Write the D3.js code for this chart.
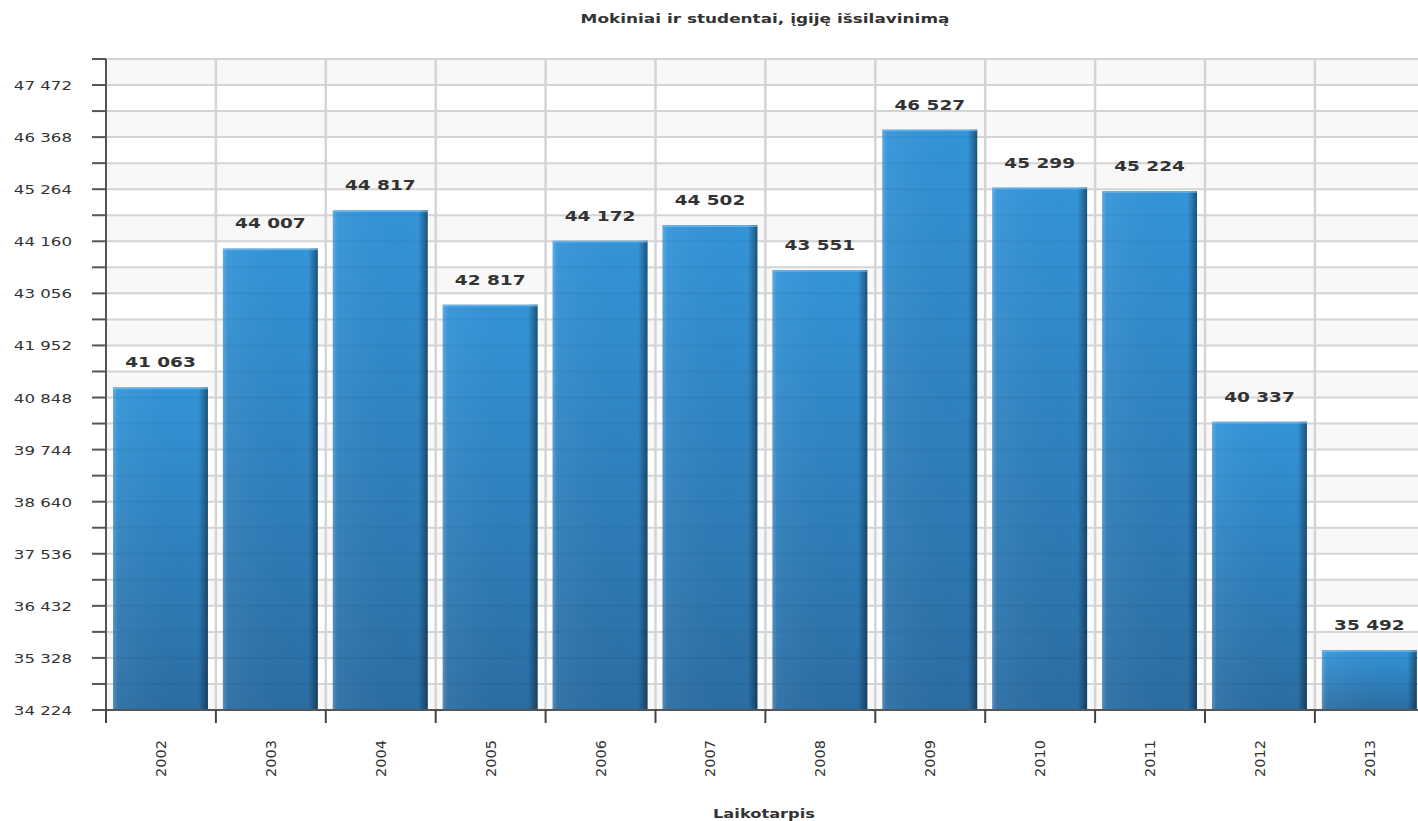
<!DOCTYPE html>
<html><head><meta charset="utf-8">
<script src="https://cdn.jsdelivr.net/npm/d3@7"></script>
<style>
html,body{margin:0;padding:0;background:#fff;overflow:hidden}
text{font-family:"DejaVu Sans",Verdana,sans-serif;fill:#333}
</style></head><body>
<svg id="c" width="1418" height="821"></svg>
<script>
const years = ["2002","2003","2004","2005","2006","2007","2008","2009","2010","2011","2012","2013"];
const values = [41063,44007,44817,42817,44172,44502,43551,46527,45299,45224,40337,35492];
const yTicks = [34224,35328,36432,37536,38640,39744,40848,41952,43056,44160,45264,46368,47472];
const yMinorStep = 552;
const yMax = 48024;
const title = "Mokiniai ir studentai, įgiję išsilavinimą";
const xTitle = "Laikotarpis";

const svg = d3.select("#c");
const L = 106, B = 710, T = 59, bandW = 109.9;
const R = L + bandW * years.length;
const x = d3.scaleBand().domain(years).range([L, R]).padding(0);
const y = d3.scaleLinear().domain([yTicks[0], yMax]).range([B, T]);
const fmt = v => d3.format(",")(v).replace(/,/g, " ");

const defs = svg.append("defs");
const gv = defs.append("linearGradient").attr("id","gv").attr("x1",0).attr("y1",0).attr("x2",0).attr("y2",1);
gv.append("stop").attr("offset","0").attr("stop-color","#3394d8");
gv.append("stop").attr("offset","1").attr("stop-color","#2a6da3");
const gh = defs.append("linearGradient").attr("id","gh").attr("x1",0).attr("y1",0).attr("x2",1).attr("y2",0);
gh.append("stop").attr("offset","0").attr("stop-color","#fff").attr("stop-opacity",0.22);
gh.append("stop").attr("offset","0.05").attr("stop-color","#fff").attr("stop-opacity",0.05);
gh.append("stop").attr("offset","0.9").attr("stop-color","#000").attr("stop-opacity",0.0);
gh.append("stop").attr("offset","0.97").attr("stop-color","#000").attr("stop-opacity",0.3);
gh.append("stop").attr("offset","1").attr("stop-color","#000").attr("stop-opacity",0.45);

const grid = d3.range(yTicks[0], yMax + 1, yMinorStep);

const bandsG = svg.append("g");
for (let i = 0; i < grid.length - 1; i++) {
  const v0 = grid[i], v1 = grid[i+1];
  const idxFromTop = grid.length - 2 - i;
  bandsG.append("rect").attr("x", L).attr("width", R - L)
    .attr("y", y(v1)).attr("height", y(v0) - y(v1))
    .attr("fill", idxFromTop % 2 === 0 ? "#f8f8f8" : "#ffffff");
}
svg.append("g").selectAll("line").data(grid).join("line")
  .attr("x1", L).attr("x2", R).attr("y1", d => y(d)).attr("y2", d => y(d))
  .attr("stroke", "#d4d4d4").attr("stroke-width", 2);
svg.append("g").selectAll("line").data(years.slice(1)).join("line")
  .attr("x1", d => x(d)).attr("x2", d => x(d)).attr("y1", T).attr("y2", B)
  .attr("stroke", "#d4d4d4").attr("stroke-width", 2.5);

const inL = 7, inR = 8;
const barsG = svg.append("g");
years.forEach((yr, i) => {
  const bx = x(yr) + inL, bw = x.bandwidth() - inL - inR;
  const by = y(values[i]), bh = B - by;
  barsG.append("rect").attr("x", bx).attr("y", by).attr("width", bw).attr("height", bh).attr("fill", "url(#gv)");
  barsG.append("rect").attr("x", bx).attr("y", by).attr("width", bw).attr("height", bh).attr("fill", "url(#gh)");
  barsG.append("line").attr("x1", bx).attr("x2", bx + bw).attr("y1", by + 1).attr("y2", by + 1)
    .attr("stroke", "#7fbde8").attr("stroke-width", 1.5).attr("opacity", 0.7);
  grid.filter(g => y(g) > by + 2 && y(g) < B - 1).forEach(g => {
    barsG.append("line").attr("x1", bx).attr("x2", bx + bw).attr("y1", y(g)).attr("y2", y(g))
      .attr("stroke", "#000").attr("stroke-opacity", 0.04).attr("stroke-width", 2);
  });
});

svg.append("g").selectAll("text").data(values).join("text")
  .attr("transform", (d, i) => `translate(${x(years[i]) + x.bandwidth()/2 - 0.5},${y(d) - 20}) scale(1.32,1)`)
  .attr("text-anchor", "middle").attr("font-size", 14).attr("font-weight", "bold")
  .style("fill", "#333").text(d => fmt(d));

svg.append("line").attr("x1", L).attr("x2", L).attr("y1", T).attr("y2", B + 1)
  .attr("stroke", "#555").attr("stroke-width", 2);
svg.append("g").selectAll("line").data(grid).join("line")
  .attr("x1", L - 14).attr("x2", L).attr("y1", d => y(d)).attr("y2", d => y(d))
  .attr("stroke", "#555").attr("stroke-width", 2);
svg.append("g").selectAll("text").data(yTicks).join("text")
  .attr("transform", d => `translate(72,${y(d) + 5}) scale(1.28,1)`)
  .attr("text-anchor", "end").attr("font-size", 13).text(d => fmt(d));

svg.append("line").attr("x1", L - 1).attr("x2", R).attr("y1", B).attr("y2", B)
  .attr("stroke", "#555").attr("stroke-width", 2);
svg.append("g").selectAll("line").data(years).join("line")
  .attr("x1", d => x(d)).attr("x2", d => x(d)).attr("y1", B).attr("y2", B + 13)
  .attr("stroke", "#444").attr("stroke-width", 2);
svg.append("g").selectAll("text").data(years).join("text")
  .attr("transform", d => `translate(${x(d) + x.bandwidth()/2 + 5},740) rotate(-90)`)
  .attr("text-anchor", "end").attr("font-size", 14.5).text(d => d);

svg.append("text").attr("transform", "translate(765,23) scale(1.3,1)")
  .attr("text-anchor", "middle").attr("font-size", 13).attr("font-weight", "bold").text(title);
svg.append("text").attr("transform", "translate(764,818) scale(1.25,1)")
  .attr("text-anchor", "middle").attr("font-size", 13).attr("font-weight", "bold").text(xTitle);
</script>
</body></html>
